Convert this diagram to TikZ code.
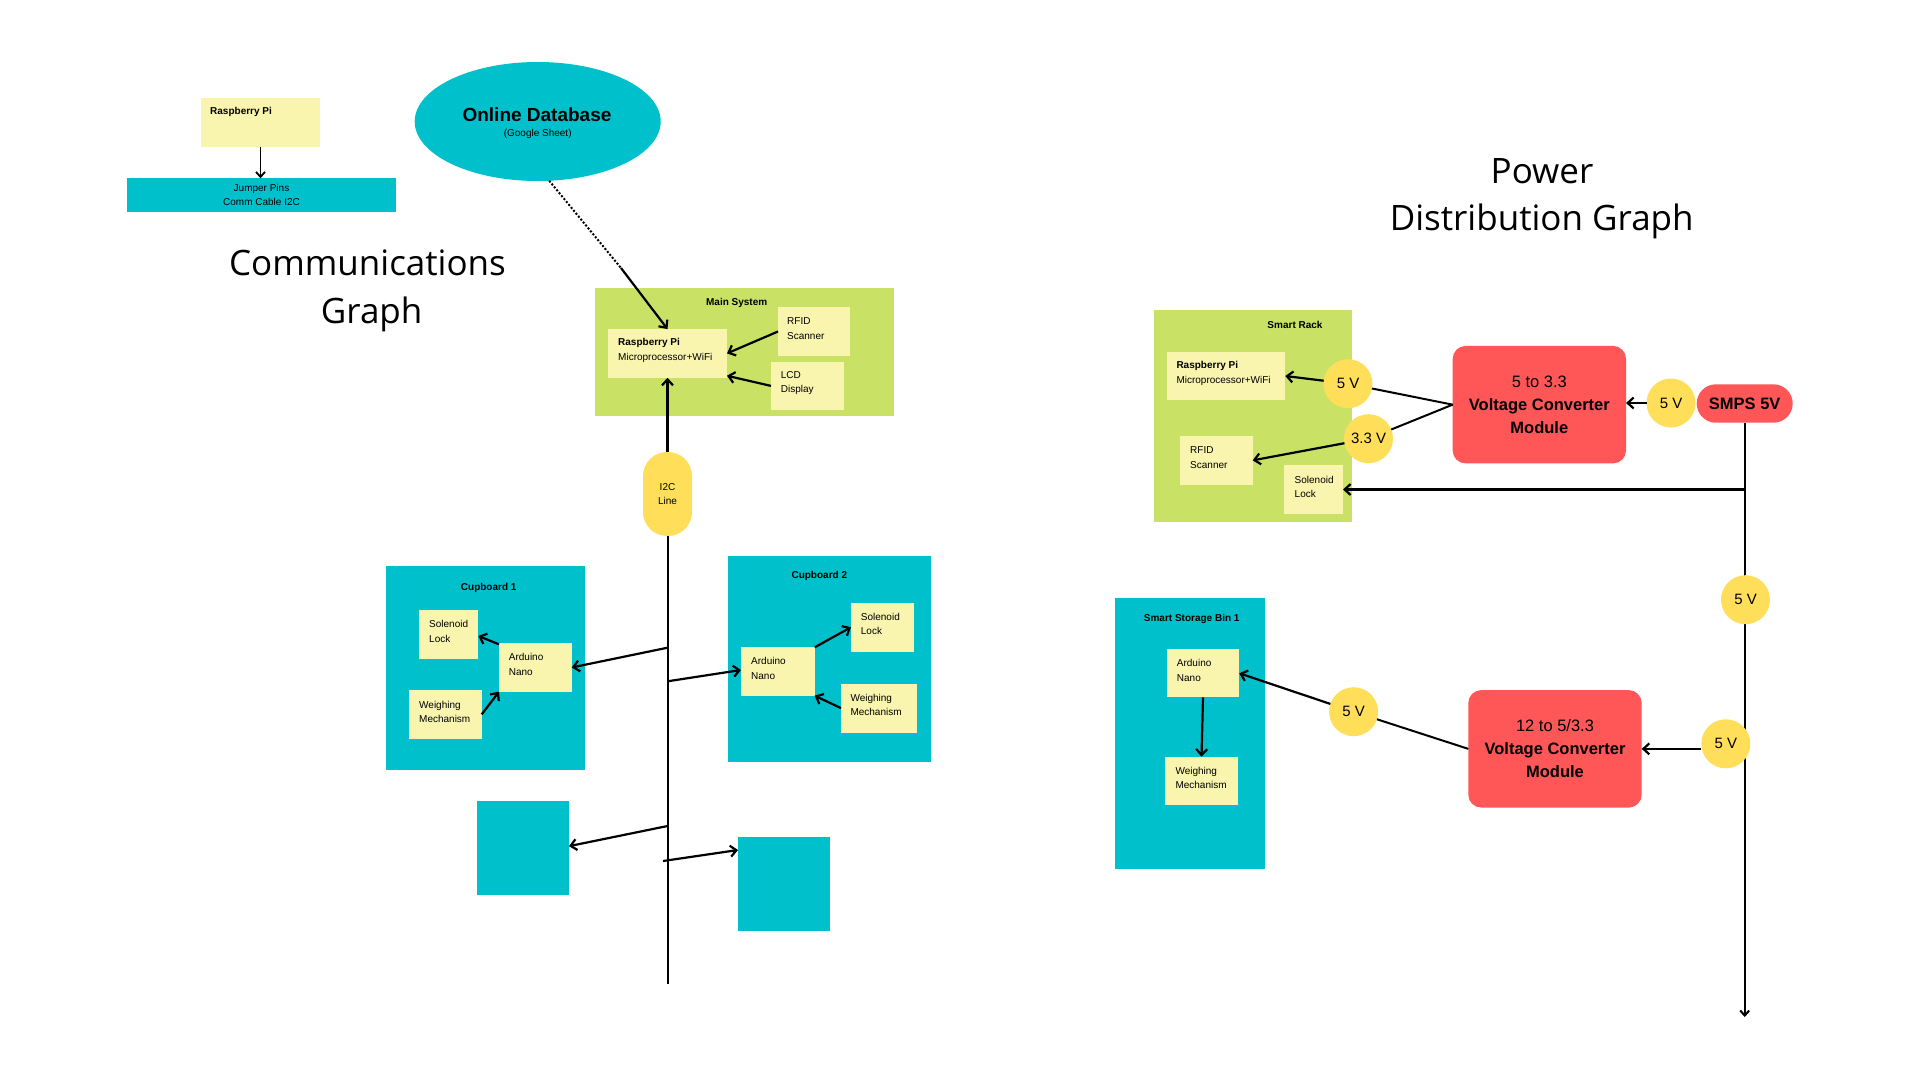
\documentclass[tikz,border=0pt]{standalone}
\usepackage{fontspec}
\setmainfont{Liberation Sans}
\newfontfamily\titlefont{Open Sans}
\usetikzlibrary{arrows.meta,calc,shapes.geometric}
\pgfdeclarelayer{bg}
\pgfsetlayers{bg,main}
\definecolor{cyan1}{RGB}{0,193,203}
\definecolor{lime1}{RGB}{201,226,101}
\definecolor{pyel}{RGB}{249,245,174}
\definecolor{cyel}{RGB}{255,222,89}
\definecolor{red1}{RGB}{255,87,87}
\tikzset{
  blk/.style={inner sep=0pt,outer sep=0pt,draw=none},
  yel/.style={blk,rectangle,fill=pyel},
  cyb/.style={blk,rectangle,fill=cyan1},
  grn/.style={blk,rectangle,fill=lime1},
  vcirc/.style={blk,circle,fill=cyel,minimum size=49pt,font=\fontsize{15}{18}\selectfont},
  conv/.style={blk,rectangle,rounded corners=13pt,fill=red1,minimum width=173.4pt,minimum height=117.5pt,align=center,font=\fontsize{16.5}{23}\selectfont},
  tx/.style={inner sep=0pt,anchor=west,align=left,font=\fontsize{10}{14.5}\selectfont},
  hd/.style={inner sep=0pt,font=\fontsize{10}{12}\selectfont\bfseries},
  arr/.style={line width=2.2pt,-{Straight Barb[length=6pt,width=11pt]}},
  wire/.style={line width=2pt},
  ttl/.style={inner sep=0pt,anchor=base,font=\titlefont\fontsize{35}{42}\selectfont}
}
\begin{document}
\begin{tikzpicture}[x=1pt,y=-1pt]
\useasboundingbox (0,0) rectangle (1920,1080);
\begin{pgfonlayer}{bg}
\fill[white] (0,0) rectangle (1920,1080);
\end{pgfonlayer}

% ---------- Communications graph ----------
\node[yel,minimum width=119pt,minimum height=49pt] (rpis) at (260.5,122.5) {};
\node[hd,anchor=west] (rpist) at (210,112) {Raspberry Pi};
\node[cyb,minimum width=269pt,minimum height=33.5pt,align=center,font=\fontsize{10}{14.5}\selectfont] (jump) at (261.5,195) {Jumper Pins\\Comm Cable I2C};
\draw[line width=1.8pt,-{Straight Barb[length=5pt,width=9pt]}] (rpis.south) -- (rpis.south |- jump.north);

\node[blk,ellipse,fill=cyan1,minimum width=246pt,minimum height=119pt] (db) at (537.7,121.5) {};
\node[inner sep=0pt,font=\fontsize{19}{22}\selectfont\bfseries] (dbt) at (537,115) {Online Database};
\node[inner sep=0pt,font=\fontsize{10}{12}\selectfont] (dbs) at (537.7,134) {(Google Sheet)};

\node[ttl] (commt1) at (367.5,275) {Communications};
\node[ttl] (commt2) at (371.7,323) {Graph};

\node[grn,minimum width=299pt,minimum height=128pt] (main) at (744.5,352) {};
\node[hd] (maint) at (736.7,303) {Main System};
\node[yel,minimum width=119pt,minimum height=48.7pt] (mrpi) at (667.5,353.4) {};
\node[tx] (mrpit) at (618,350.3) {\textbf{Raspberry Pi}\\Microprocessor+WiFi};
\node[yel,minimum width=72pt,minimum height=49pt] (mrfid) at (814,331.5) {};
\node[tx] (mrfidt) at (787,328.7) {RFID\\Scanner};
\node[yel,minimum width=73pt,minimum height=48.3pt] (mlcd) at (807.5,385.9) {};
\node[tx] (mlcdt) at (780.7,383.2) {LCD\\Display};
\draw[arr] (mrfid.west) -- (mrpi.east);
\draw[arr] (mlcd.west) -- ([yshift=2pt]mrpi.south east);
\coordinate (dbk) at (621,268);
\draw[line width=2pt,dash pattern=on 2pt off 1.8pt] (db.-79.3) -- (dbk);
\draw[arr] (dbk) -- (mrpi.north);

\node[blk,rectangle,rounded corners=24pt,fill=cyel,minimum width=49pt,minimum height=84pt,align=center,font=\fontsize{10}{14}\selectfont] (i2c) at (667.5,494) {I2C\\Line};
\draw[arr] (i2c.north) -- (mrpi.south);
\coordinate (busend) at (667.5,984);
\draw[wire] (i2c.south) -- (busend);
\coordinate (b1) at (667.5,647.7);
\coordinate (b2) at (667.5,681.3);
\coordinate (b3) at (667.5,826);
\coordinate (b4) at (663,861);

\node[cyb,minimum width=198.7pt,minimum height=203.7pt] (cb1) at (485.35,667.85) {};
\node[hd] (cb1t) at (488.7,587.7) {Cupboard 1};
\node[yel,minimum width=59pt,minimum height=48.7pt] (c1sol) at (448.8,634.35) {};
\node[tx] (c1solt) at (429,631.3) {Solenoid\\Lock};
\node[yel,minimum width=72.7pt,minimum height=48.4pt] (c1ard) at (535.35,667.5) {};
\node[tx] (c1ardt) at (508.7,664.5) {Arduino\\Nano};
\node[yel,minimum width=72.7pt,minimum height=48.7pt] (c1wei) at (445.35,714.35) {};
\node[tx] (c1weit) at (419,711.7) {Weighing\\Mechanism};
\draw[arr] ([yshift=-1pt]c1ard.north west) -- ([yshift=-1.6pt]c1sol.east);
\draw[arr] (c1wei.east) -- (c1ard.south west);
\draw[arr] (b1) -- (c1ard.east);

\node[cyb,minimum width=202.9pt,minimum height=205.7pt] (cb2) at (829.15,658.85) {};
\node[hd] (cb2t) at (819.3,575.7) {Cupboard 2};
\node[yel,minimum width=73.7pt,minimum height=48.4pt] (c2ard) at (777.85,671.5) {};
\node[tx] (c2ardt) at (751,668.5) {Arduino\\Nano};
\node[yel,minimum width=62.8pt,minimum height=48.8pt] (c2sol) at (882.4,627.2) {};
\node[tx] (c2solt) at (860.7,624) {Solenoid\\Lock};
\node[yel,minimum width=75.8pt,minimum height=49.3pt] (c2wei) at (878.9,708.15) {};
\node[tx] (c2weit) at (850.3,704.7) {Weighing\\Mechanism};
\draw[arr] (c2ard.north east) -- (c2sol.west);
\draw[arr] (c2wei.west) -- (c2ard.south east);
\draw[arr] (b2) -- ([yshift=1.5pt]c2ard.west);

\node[cyb,minimum width=92pt,minimum height=94.3pt] (sq1) at (523,848.15) {};
\node[cyb,minimum width=91.7pt,minimum height=93.7pt] (sq2) at (783.85,883.85) {};
\draw[arr] (b3) -- ([yshift=2pt]sq1.east);
\draw[arr] (b4) -- ($(sq2.north west)+(0,13)$);

% ---------- Power distribution graph ----------
\node[ttl] (pwt1) at (1542,183) {Power};
\node[ttl] (pwt2) at (1541.7,230.7) {Distribution Graph};

\node[grn,minimum width=198pt,minimum height=212pt] (rack) at (1253,416) {};
\node[hd] (rackt) at (1295,325.3) {Smart Rack};
\node[yel,minimum width=118.6pt,minimum height=48pt] (prpi) at (1226,376) {};
\node[tx] (prpit) at (1176.3,373.2) {\textbf{Raspberry Pi}\\Microprocessor+WiFi};
\node[yel,minimum width=72.7pt,minimum height=48.7pt] (prfid) at (1216.35,460.35) {};
\node[tx] (prfidt) at (1190,457.5) {RFID\\Scanner};
\node[yel,minimum width=59pt,minimum height=48.4pt] (psol) at (1313.5,489.5) {};
\node[tx] (psolt) at (1294.5,486.7) {Solenoid\\Lock};

\node[vcirc] (v5a) at (1348,383.7) {5 V};
\node[vcirc] (v33) at (1368.5,438.7) {3.3 V};
\node[conv] (conv1) at (1539.35,404.65) {5 to 3.3\\\textbf{Voltage Converter}\\\textbf{Module}};
\node[vcirc] (v5b) at (1671,403) {5 V};
\node[blk,rectangle,rounded corners=19.2pt,fill=red1,minimum width=96pt,minimum height=38.4pt,font=\fontsize{16.5}{20}\selectfont\bfseries] (smps) at (1744.7,403.5) {SMPS 5V};
\node[vcirc] (v5c) at (1745.5,599.7) {5 V};
\node[vcirc] (v5d) at (1725.8,743.8) {5 V};
\node[conv] (conv2) at (1555,748.85) {12 to 5/3.3\\\textbf{Voltage Converter}\\\textbf{Module}};
\node[vcirc] (v5e) at (1353.6,711.7) {5 V};

\node[cyb,minimum width=150pt,minimum height=271pt] (ssb) at (1190,733.5) {};
\node[hd] (ssbt) at (1191.7,619.3) {Smart Storage Bin 1};
\node[yel,minimum width=72.6pt,minimum height=48pt] (ssard) at (1203,673.3) {};
\node[tx] (ssardt) at (1176.7,670.3) {Arduino\\Nano};
\node[yel,minimum width=72.4pt,minimum height=48.3pt] (sswei) at (1201.5,780.85) {};
\node[tx] (ssweit) at (1175.3,777.7) {Weighing\\Mechanism};

\draw[wire] (conv1.west) -- (v5a);
\draw[wire] (conv1.west) -- (v33);
\draw[arr] (v5a) -- (prpi.east);
\draw[arr] (v33) -- (prfid.east);
\draw[arr] (v5b.west) -- (v5b.west -| conv1.east);
\coordinate (pend) at (1744.7,1017);
\begin{pgfonlayer}{bg}
\draw[wire,-{Straight Barb[length=5pt,width=9pt]}] (smps.south) -- (pend);
\end{pgfonlayer}
\draw[arr] (smps.south |- psol.east) -- (psol.east);
\draw[arr] (v5d.west |- conv2.east) -- (conv2.east);
\draw[wire] (conv2.west) -- (v5e);
\draw[arr] (v5e) -- (ssard.east);
\draw[arr] (ssard.south) -- (sswei.north);
\end{tikzpicture}
\end{document}
